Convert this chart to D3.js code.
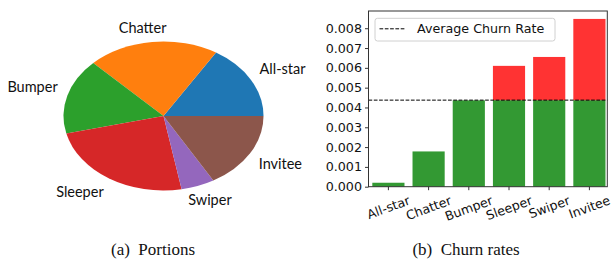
<!DOCTYPE html>
<html>
<head>
<meta charset="utf-8">
<script src="https://cdn.jsdelivr.net/npm/d3@7"></script>
<style>
  body { margin: 0; background: #fff; }
  svg { display: block; }
</style>
</head>
<body>
<script>
// user groups, share of users (%) and churn rate per group
var categories = ["All-star", "Chatter", "Bumper", "Sleeper", "Swiper", "Invitee"];
var portions = [16.2, 21.2, 16.4, 24.1, 5.4, 16.7];
var churnRates = [0.0002, 0.00178, 0.00436, 0.0061, 0.00655, 0.00847];
var avgChurn = 0.00437;
var yTicks = [0, 0.001, 0.002, 0.003, 0.004, 0.005, 0.006, 0.007, 0.008];
var legendLabel = "Average Churn Rate";
var captions = ["(a)  Portions", "(b)  Churn rates"];

var pieColors = ["#1f77b4", "#ff7f0e", "#2ca02c", "#d62728", "#9467bd", "#8c564b"];

var WIDTH = 611, HEIGHT = 260;
var svg = d3.select("body").append("svg")
    .attr("width", WIDTH)
    .attr("height", HEIGHT);

// ---- pie (a) ----
var PIE = { cx: 163.5, cy: 116, rx: 100, ry: 74.5 };

// matplotlib style: start at 3 o'clock, go counter clockwise
var pie = d3.pie().sort(null)
    .startAngle(Math.PI / 2)
    .endAngle(Math.PI / 2 - 2 * Math.PI);
var arcs = pie(portions);
var arc = d3.arc().innerRadius(0).outerRadius(PIE.rx);

var pieG = svg.append("g")
    .attr("transform", "translate(" + PIE.cx + "," + PIE.cy + ")");

pieG.append("g")
    .attr("transform", "scale(1," + (PIE.ry / PIE.rx) + ")")
    .selectAll("path")
    .data(arcs)
    .join("path")
    .attr("d", arc)
    .attr("fill", function(d, i) { return pieColors[i]; });

pieG.selectAll("text")
    .data(arcs)
    .join("text")
    .attr("x", function(d) {
      var s = Math.sin((d.startAngle + d.endAngle) / 2);
      var xt = 1.1 * PIE.rx * s;
      // near-vertical labels are centred, nudged outwards a bit
      if (Math.abs(s) < 0.35) return xt + (s < 0 ? -8.5 : 8.5);
      return xt;
    })
    .attr("y", function(d) {
      var t = (d.startAngle + d.endAngle) / 2;
      var yt = -1.1 * PIE.ry * Math.cos(t);
      return Math.cos(t) > 0 ? yt - 2 : yt + 12;
    })
    .attr("text-anchor", function(d) {
      var s = Math.sin((d.startAngle + d.endAngle) / 2);
      if (Math.abs(s) < 0.35) return "middle";
      return s > 0 ? "start" : "end";
    })
    .style("font-family", "Lato, 'Open Sans', sans-serif")
    .style("font-size", "14.5px")
    .attr("fill", "#111")
    .text(function(d, i) { return categories[i]; });

// ---- bars (b) ----
var BOX = { left: 368.5, right: 607.3, top: 11, bottom: 186.7 };

var xScale = d3.scaleBand()
    .domain(categories)
    .range([368.3, 609.5])
    .paddingInner(0.2)
    .paddingOuter(0.1);

var yScale = d3.scaleLinear()
    .domain([0, 0.00887])
    .range([BOX.bottom, BOX.top]);

var barG = svg.append("g");

// part below the average
barG.selectAll("rect.below")
    .data(churnRates)
    .join("rect")
    .attr("class", "below")
    .attr("x", function(d, i) { return xScale(categories[i]); })
    .attr("width", xScale.bandwidth())
    .attr("y", function(d) { return yScale(Math.min(d, avgChurn)); })
    .attr("height", function(d) { return yScale(0) - yScale(Math.min(d, avgChurn)); })
    .attr("fill", "#339933");

// part above the average
barG.selectAll("rect.above")
    .data(churnRates.filter(function(d) { return d > avgChurn; }))
    .join("rect")
    .attr("class", "above")
    .attr("x", function(d) { return xScale(categories[churnRates.indexOf(d)]); })
    .attr("width", xScale.bandwidth())
    .attr("y", function(d) { return yScale(d); })
    .attr("height", function(d) { return yScale(avgChurn) - yScale(d); })
    .attr("fill", "#ff3333");

// average line
svg.append("line")
    .attr("x1", BOX.left).attr("x2", BOX.right)
    .attr("y1", yScale(avgChurn)).attr("y2", yScale(avgChurn))
    .attr("stroke", "#000")
    .attr("stroke-width", 1)
    .attr("stroke-dasharray", "3.7,1.6");

// y axis
var yAxis = d3.axisLeft(yScale)
    .tickValues(yTicks)
    .tickFormat(d3.format(".3f"))
    .tickSize(3.5)
    .tickPadding(3);

var yG = svg.append("g")
    .attr("transform", "translate(" + BOX.left + ",0)")
    .call(yAxis);
yG.select(".domain").remove();
yG.selectAll("line").attr("stroke", "#333");
yG.selectAll("text")
    .style("font-family", "'DejaVu Sans', sans-serif")
    .style("font-size", "12.7px")
    .attr("fill", "#111");

// x axis
var xAxis = d3.axisBottom(xScale).tickSize(3.5).tickFormat("");
var xG = svg.append("g")
    .attr("transform", "translate(0," + BOX.bottom + ")")
    .call(xAxis);
xG.select(".domain").remove();
xG.selectAll("line").attr("stroke", "#333");

// rotated x labels, rotated box top-centred under tick
var rot = 20 * Math.PI / 180;
var xLabels = svg.append("g").selectAll("text")
    .data(categories)
    .join("text")
    .style("font-family", "'DejaVu Sans', sans-serif")
    .style("font-size", "12.6px")
    .attr("fill", "#111")
    .attr("text-anchor", "middle")
    .attr("dy", "0.35em")
    .text(function(d) { return d; });

xLabels.attr("transform", function(d) {
  var w = this.getComputedTextLength();
  var h = 13;
  var bh = w * Math.sin(rot) + h * Math.cos(rot);
  var cx = xScale(d) + xScale.bandwidth() / 2;
  var cy = BOX.bottom + 7 + bh / 2;
  return "translate(" + cx + "," + cy + ") rotate(-20)";
});

// frame
svg.append("rect")
    .attr("x", BOX.left).attr("y", BOX.top)
    .attr("width", BOX.right - BOX.left)
    .attr("height", BOX.bottom - BOX.top)
    .attr("fill", "none")
    .attr("stroke", "#333")
    .attr("stroke-width", 1);

// legend
var legend = svg.append("g");
legend.append("rect")
    .attr("x", 375).attr("y", 18.3)
    .attr("width", 180).attr("height", 22.7)
    .attr("rx", 2.5)
    .attr("fill", "#fff")
    .attr("fill-opacity", 0.8)
    .attr("stroke", "#d0d0d0")
    .attr("stroke-width", 1);
legend.append("line")
    .attr("x1", 379.5).attr("x2", 405.5)
    .attr("y1", 28.8).attr("y2", 28.8)
    .attr("stroke", "#000")
    .attr("stroke-width", 1)
    .attr("stroke-dasharray", "3.7,1.6");
legend.append("text")
    .attr("x", 417)
    .attr("y", 29)
    .attr("dy", "0.35em")
    .style("font-family", "'DejaVu Sans', sans-serif")
    .style("font-size", "12.7px")
    .attr("fill", "#111")
    .text(legendLabel);

// captions
svg.selectAll("text.caption")
    .data(captions)
    .join("text")
    .attr("class", "caption")
    .attr("x", function(d, i) { return i === 0 ? 153 : 466; })
    .attr("y", 255)
    .attr("text-anchor", "middle")
    .attr("xml:space", "preserve")
    .style("white-space", "pre")
    .style("font-family", "'Liberation Serif', 'DejaVu Serif', serif")
    .style("font-size", "17px")
    .attr("fill", "#111")
    .text(function(d) { return d; });
</script>
</body>
</html>
